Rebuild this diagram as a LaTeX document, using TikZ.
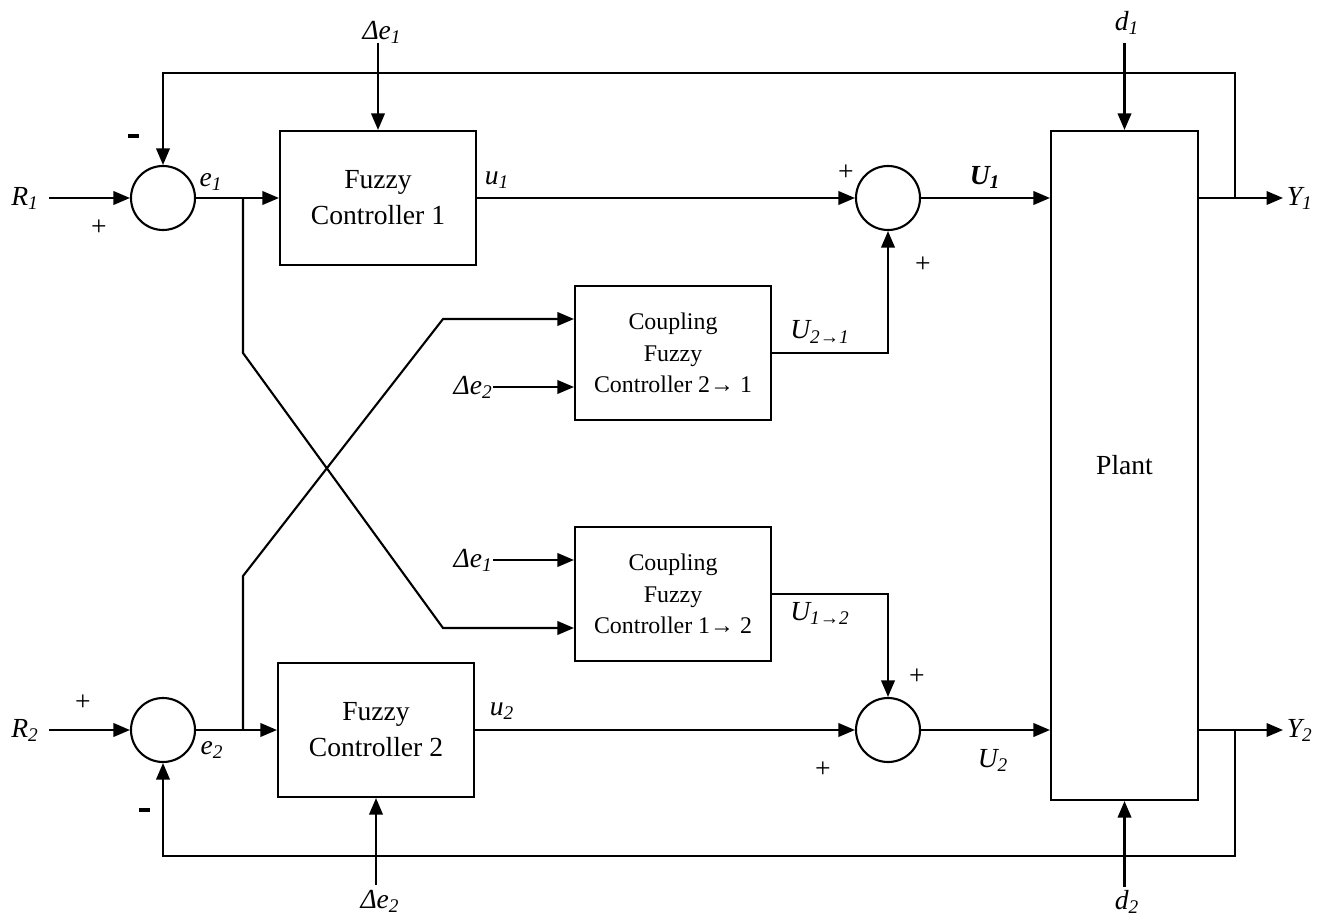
\documentclass[tikz,border=0pt]{standalone}
\usepackage{fontspec}
\setmainfont{Liberation Serif}
\usetikzlibrary{arrows.meta,calc,positioning}
\tikzset{
  blk/.style={draw,line width=1.2pt,minimum width=3.92cm,minimum height=2.68cm,align=center,font=\fontsize{15.7}{20.5}\selectfont},
  cblk/.style={blk,font=\fontsize{13.6}{17.9}\selectfont},
  sumc/.style={draw,circle,line width=1.2pt,minimum size=1.28cm,inner sep=0pt},
  wire/.style={line width=1.2pt},
  sig/.style={wire,-{Triangle[length=0.33cm,width=0.27cm]}},
  lab/.style={font=\fontsize{15.7}{18}\selectfont\itshape,inner sep=1pt},
  sgn/.style={font=\fontsize{15.7}{18}\selectfont,inner sep=1pt},
  neg/.style={fill,inner sep=0pt,minimum width=0.22cm,minimum height=0.08cm},
}
\begin{document}
\begin{tikzpicture}[x=1cm,y=1cm]
\useasboundingbox (0,0) rectangle (26.54,18.38);

% Summing junctions
\node[sumc] (s1) at (3.26,14.42) {};
\node[sumc] (s2) at (3.26,3.78) {};
\node[sumc] (s3) at (17.76,14.42) {};
\node[sumc] (s4) at (17.76,3.78) {};

% Controllers and plant
\node[blk] (fc1) at (7.56,14.42) {Fuzzy\\Controller 1};
\node[blk] (fc2) at (7.52,3.78) {Fuzzy\\Controller 2};
\node[cblk] (c21) at (13.46,11.32) {Coupling\\Fuzzy\\Controller 2→ 1};
\node[cblk] (c12) at (13.46,6.50) {Coupling\\Fuzzy\\Controller 1→ 2};
\node[draw,line width=1.2pt,minimum width=2.94cm,minimum height=13.38cm,
  font=\fontsize{15.7}{18}\selectfont] (plant) at (22.49,9.07) {Plant};

% References
\node[lab,anchor=east,inner sep=0.2cm] (r1) at (0.98,14.42) {R\textsubscript{1}};
\node[lab,anchor=east,inner sep=0.2cm] (r2) at (0.98,3.78) {R\textsubscript{2}};
\draw[sig] (r1.east) -- (s1.west);
\draw[sig] (r2.east) -- (s2.west);

% Error paths
\coordinate (b1) at (4.86,14.42);
\coordinate (b2) at (4.86,3.78);
\coordinate (k1) at (4.86,11.32);
\coordinate (k2) at (8.86,5.82);
\coordinate (k3) at (4.86,6.86);
\coordinate (k4) at (8.86,12.00);
\draw[sig] (s1.east) -- (fc1.west);
\draw[sig] (s2.east) -- (fc2.west);
\draw[sig] (b1) -- (k1) -- (k2) -- (k2 -| c12.west);
\draw[sig] (b2) -- (k3) -- (k4) -- (k4 -| c21.west);

% Error rates
\coordinate (de1s) at (7.56,17.52);
\coordinate (de2s) at (7.52,0.68);
\node[lab] (de1t) at (7.64,17.74) {Δe\textsubscript{1}};
\node[lab] (de2b) at (7.60,0.36) {Δe\textsubscript{2}};
\draw[sig] (de1s) -- (fc1.north);
\draw[sig] (de2s) -- (fc2.south);
\node[lab,anchor=east,inner sep=0pt] (de2c) at (9.86,10.64) {Δe\textsubscript{2}};
\node[lab,anchor=east,inner sep=0pt] (de1c) at (9.86,7.18) {Δe\textsubscript{1}};
\draw[sig] (de2c.east) -- (de2c.east -| c21.west);
\draw[sig] (de1c.east) -- (de1c.east -| c12.west);

% Control signals
\draw[sig] (fc1.east) -- (s3.west);
\draw[sig] (fc2.east) -- (s4.west);
\draw[sig] (c21.east) -| (s3.south);
\draw[sig] (c12.east) -| (s4.north);
\draw[sig] (s3.east) -- (plant.west |- s3);
\draw[sig] (s4.east) -- (plant.west |- s4);

% Disturbances
\coordinate (d1s) at (22.49,17.52);
\coordinate (d2s) at (22.49,0.64);
\node[lab] (d1) at (22.54,17.92) {d\textsubscript{1}};
\node[lab] (d2) at (22.54,0.34) {d\textsubscript{2}};
\draw[sig] (d1s) -- (plant.north);
\draw[sig] (d2s) -- (plant.south);

% Outputs and feedback
\node[lab,anchor=west,inner sep=0.07cm] (y1) at (25.66,14.42) {Y\textsubscript{1}};
\node[lab,anchor=west,inner sep=0.07cm] (y2) at (25.66,3.78) {Y\textsubscript{2}};
\draw[sig] (plant.east |- s3) -- (y1.west);
\draw[sig] (plant.east |- s4) -- (y2.west);
\coordinate (y1b) at (24.70,14.42);
\coordinate (y2b) at (24.70,3.78);
\coordinate (ft) at (24.70,16.92);
\coordinate (fb) at (24.70,1.26);
\draw[sig] (y1b) -- (ft) -| (s1.north);
\draw[sig] (y2b) -- (fb) -| (s2.south);

% Signal labels
\node[lab] (e1) at (4.22,14.74) {e\textsubscript{1}};
\node[lab] (e2) at (4.24,3.38) {e\textsubscript{2}};
\node[lab] (u1) at (9.94,14.78) {u\textsubscript{1}};
\node[lab] (u2) at (10.04,4.16) {u\textsubscript{2}};
\node[lab] (bu1) at (19.70,14.84) {\bfseries U\textsubscript{1}};
\node[lab] (bu2) at (19.86,3.18) {U\textsubscript{2}};
\node[lab] (u21) at (16.40,11.74) {U\textsubscript{2→1}};
\node[lab] (u12) at (16.40,6.12) {U\textsubscript{1→2}};

% Signs
\node[sgn] at (1.98,13.82) {+};
\node[neg] at (2.66,15.66) {};
\node[sgn] at (1.66,4.32) {+};
\node[neg] at (2.88,2.18) {};
\node[sgn] at (16.92,14.92) {+};
\node[sgn] at (18.46,13.08) {+};
\node[sgn] at (18.34,4.84) {+};
\node[sgn] at (16.46,2.98) {+};

\end{tikzpicture}
\end{document}
